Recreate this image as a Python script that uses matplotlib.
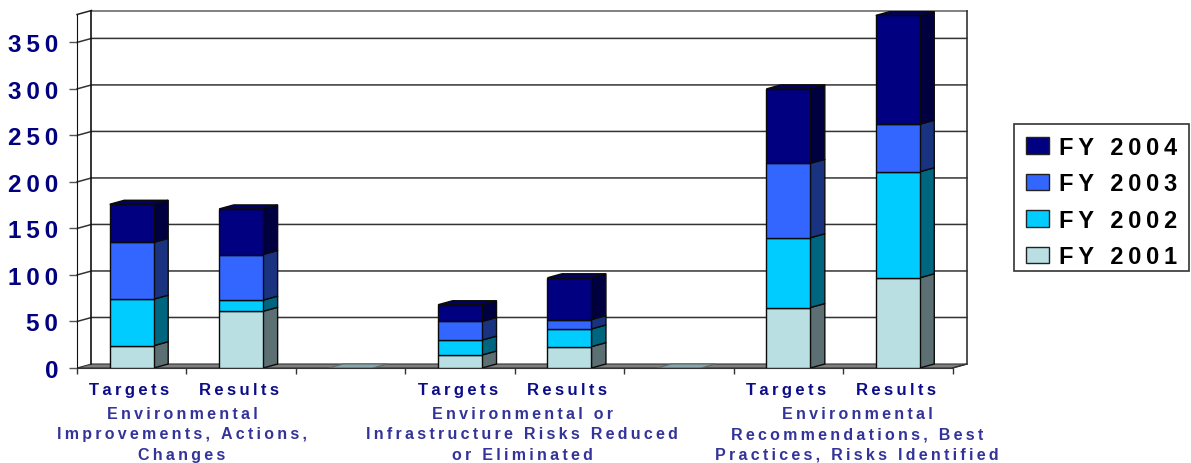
import matplotlib
matplotlib.use('Agg')
import matplotlib.pyplot as plt
from matplotlib.patches import Patch, Rectangle

plt.rcParams['font.family'] = ['Liberation Sans', 'DejaVu Sans']
plt.rcParams['font.weight'] = 'bold'

# blank slots separate the three groups of targets / results
categories = ['Targets', 'Results', '', 'Targets', 'Results', '', 'Targets', 'Results']
fy2001 = [24, 61, 0, 14, 23, 0, 65, 97]
fy2002 = [50, 12, 0, 16, 19, 0, 75, 114]
fy2003 = [61, 49, 0, 20, 10, 0, 80, 51]
fy2004 = [41, 49, 0, 18, 45, 0, 80, 117]
series_names = ['FY 2001', 'FY 2002', 'FY 2003', 'FY 2004']
y_ticks = [0, 50, 100, 150, 200, 250, 300, 350]
groups = ['Environmental\nImprovements, Actions,\nChanges',
          'Environmental or\nInfrastructure Risks Reduced\nor Eliminated',
          'Environmental\nRecommendations, Best\nPractices, Risks Identified']

front = ['#b9dfe3', '#00ccff', '#3366ff', '#000080']
side = ['#5c7073', '#006680', '#1a3380', '#000040']
top = ['#86a8ac', '#0099bf', '#264db8', '#000066']

W, H = 1191, 464
DX = 14.5 / 109.5   # depth of the fake 3D box, in category units
DY = 4.3            # depth in value units
YMAX = 380
BAR_W = 44 / 109.5
NAVY = '#000080'


def spaced(s):
    # wide tracking, done with thin spaces between the letters
    return '\n'.join('\u2009'.join(line) for line in s.split('\n'))


fig = plt.figure(figsize=(W / 100, H / 100), dpi=100)
ax = fig.add_axes([77 / W, 1 - 369 / H, (967 - 77) / W, (369 - 11.5) / H])
ax.set_xlim(0, len(categories) + DX)
ax.set_ylim(0, YMAX + DY)
ax.patch.set_visible(False)

n = len(categories)

# back wall, side wall and floor
ax.fill([0, n, n + DX, DX], [0, 0, DY, DY], color='#808080', ec='#333333', lw=0.8, zorder=1)
for v in y_ticks[1:]:
    ax.plot([0, DX, n + DX], [v, v + DY, v + DY], color='#333333', lw=1.1, zorder=1, clip_on=False)
ax.plot([DX, n + DX], [YMAX + DY, YMAX + DY], color='#777777', lw=1.3, zorder=1, clip_on=False)
ax.plot([0, DX], [YMAX, YMAX + DY], color='#222222', lw=1.1, zorder=1, clip_on=False)
ax.plot([DX, DX], [DY, YMAX + DY], color='#111111', lw=1.2, zorder=1, clip_on=False)
ax.plot([n + DX, n + DX], [DY, YMAX + DY], color='#333333', lw=1.2, zorder=1, clip_on=False)
ax.plot([n, n + DX], [0, DY], color='#333333', lw=1.0, zorder=1, clip_on=False)

# stacked bars, each segment with its side face and the stack with a top face
values = [fy2001, fy2002, fy2003, fy2004]
for i in range(n):
    base = 0
    x0 = i + 0.5 - BAR_W / 2
    x1 = i + 0.5 + BAR_W / 2
    total = sum(s[i] for s in values)
    if total == 0:
        ax.fill([x0, x1, x1 + DX, x0 + DX], [0, 0, DY, DY], fc=top[0], ec='#666666', lw=0.8, zorder=2)
        continue
    for k, s in enumerate(values):
        h = s[i]
        ax.bar(i + 0.5, h, BAR_W, bottom=base, color=front[k], ec='#0a0a0a', lw=1.0, zorder=3)
        ax.fill([x1, x1 + DX, x1 + DX, x1], [base, base + DY, base + h + DY, base + h],
                fc=side[k], ec='#0a0a0a', lw=1.0, zorder=2.5)
        base += h
    ax.fill([x0, x1, x1 + DX, x0 + DX], [base, base, base + DY, base + DY],
            fc=top[3], ec='#0a0a0a', lw=1.0, zorder=2.5)

# axes
for name in ['top', 'right']:
    ax.spines[name].set_visible(False)
ax.spines['left'].set_bounds(0, YMAX)
ax.spines['bottom'].set_bounds(0, n)
ax.spines['left'].set_color('#111111')
ax.spines['bottom'].set_color('#333333')
ax.set_xticks(range(n + 1))
ax.set_xticklabels([])
ax.set_xticks([i + 0.48 for i in range(n)], minor=True)
ax.set_xticklabels([spaced(c) for c in categories], minor=True, fontsize=12, color='#0c0c88')
ax.tick_params(axis='x', which='major', length=4.5, width=1, color='#333333')
ax.tick_params(axis='x', which='minor', length=0, pad=10)
ax.set_yticks(y_ticks)
ax.set_yticklabels([spaced(str(v)) for v in y_ticks], fontsize=17.5, color=NAVY)
ax.tick_params(axis='y', length=5.5, width=1, color='#555555', pad=8)

# group captions under the category labels
for label, px in zip(groups, [182, 522, 857]):
    fig.text(px / W, 1 - 435 / H, spaced(label), ha='center', va='center', fontsize=11.5,
             color='#333399', linespacing=1.42)

# legend box is drawn separately so its padding can be uneven
fig.add_artist(Rectangle((1014 / W, 1 - 272 / H), 175 / W, 147 / H, transform=fig.transFigure,
                         fc='white', ec='#333333', lw=1.2))
handles = [Patch(fc=front[k], ec='#222222', lw=1.0, label=spaced(series_names[k])) for k in [3, 2, 1, 0]]
leg = fig.legend(handles=handles, loc='upper left', bbox_to_anchor=(1014 / W, 1 - 125 / H),
                 prop={'size': 17, 'weight': 'bold', 'family': ['Liberation Sans', 'DejaVu Sans']},
                 frameon=False, borderaxespad=0,
                 handlelength=0.97, handleheight=0.68, handletextpad=0.42,
                 labelspacing=0.57, borderpad=0.5)

fig.savefig('out.png', dpi=100)
